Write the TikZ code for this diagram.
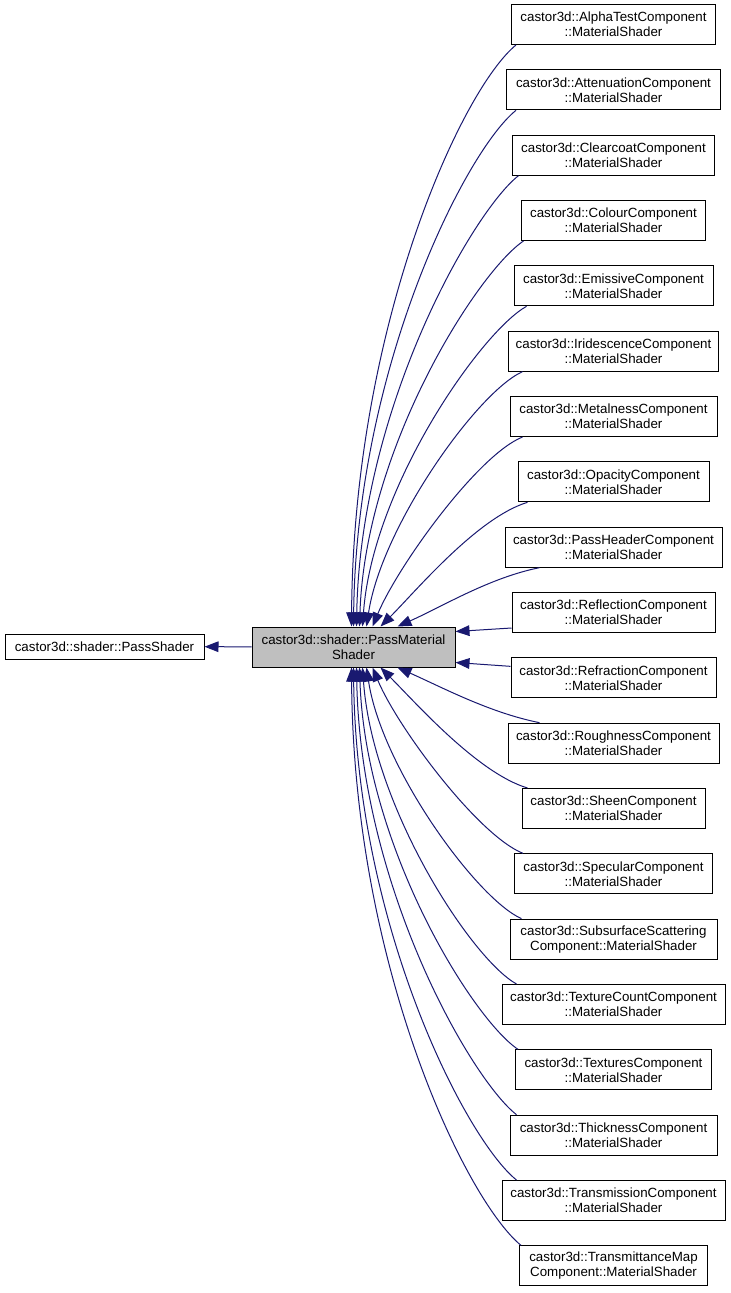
\documentclass[tikz,border=0pt]{standalone}
\usepackage{fontspec}
\setmainfont{Liberation Sans}
\usepackage{xcolor}
\usepackage{tikz}
\usetikzlibrary{
  arrows.meta,
  positioning,
  calc}
\definecolor{edgeblue}{HTML}{191970}
\definecolor{basegray}{HTML}{BFBFBF}
\tikzset{every picture/.style={font issue=\fontsize{10pt}{11.25pt}},
         font issue/.style={execute at begin picture={#1\selectfont}}
        }

\begin{document}
\begin{tikzpicture}[x=0.75pt, y=-0.75pt,
  cls/.style={draw=black, line width=0.75pt, align=center, inner sep=1.5pt, minimum height=30pt},
  inherit/.style={draw=edgeblue, line width=0.75pt, -{Triangle[length=10.5pt,width=8pt]}},
  node distance=18.25pt]

\useasboundingbox (0,0) rectangle (731,1293);

%base classes
\node[cls, fill=basegray, minimum width=152.25pt] (pms) at (353.5,647) {castor3d::shader::PassMaterial\\Shader};
\node[cls, minimum width=149.25pt, minimum height=18.75pt] (ps) at (104.5,646.5) {castor3d::shader::PassShader};

%components
\node[cls, minimum width=153pt] (alphatest) at (613.5,24.5) {castor3d::AlphaTestComponent\\::MaterialShader};
\node[cls, minimum width=160.5pt, below=of alphatest] (attenuation) {castor3d::AttenuationComponent\\::MaterialShader};
\node[cls, minimum width=151.5pt, below=of attenuation] (clearcoat) {castor3d::ClearcoatComponent\\::MaterialShader};
\node[cls, minimum width=138pt, below=of clearcoat] (colour) {castor3d::ColourComponent\\::MaterialShader};
\node[cls, minimum width=149.25pt, below=of colour] (emissive) {castor3d::EmissiveComponent\\::MaterialShader};
\node[cls, minimum width=157.5pt, below=of emissive] (iridescence) {castor3d::IridescenceComponent\\::MaterialShader};
\node[cls, minimum width=155.25pt, below=of iridescence] (metalness) {castor3d::MetalnessComponent\\::MaterialShader};
\node[cls, minimum width=143.25pt, below=of metalness] (opacity) {castor3d::OpacityComponent\\::MaterialShader};
\node[cls, minimum width=162.75pt, below=of opacity] (passheader) {castor3d::PassHeaderComponent\\::MaterialShader};
\node[cls, minimum width=152.25pt, below=of passheader] (reflection) {castor3d::ReflectionComponent\\::MaterialShader};
\node[cls, minimum width=153.75pt, below=of reflection] (refraction) {castor3d::RefractionComponent\\::MaterialShader};
\node[cls, minimum width=158.25pt, below=of refraction] (roughness) {castor3d::RoughnessComponent\\::MaterialShader};
\node[cls, minimum width=137.25pt, below=of roughness] (sheen) {castor3d::SheenComponent\\::MaterialShader};
\node[cls, minimum width=148.5pt, below=of sheen] (specular) {castor3d::SpecularComponent\\::MaterialShader};
\node[cls, minimum width=155.25pt, below=of specular] (subsurface) {castor3d::SubsurfaceScattering\\Component::MaterialShader};
\node[cls, minimum width=167.25pt, below=of subsurface] (texcount) {castor3d::TextureCountComponent\\::MaterialShader};
\node[cls, minimum width=147pt, below=of texcount] (textures) {castor3d::TexturesComponent\\::MaterialShader};
\node[cls, minimum width=155.25pt, below=of textures] (thickness) {castor3d::ThicknessComponent\\::MaterialShader};
\node[cls, minimum width=167.25pt, below=of thickness] (transmission) {castor3d::TransmissionComponent\\::MaterialShader};
\node[cls, minimum width=141pt, below=of transmission] (transmittance) {castor3d::TransmittanceMap\\Component::MaterialShader};

\draw[inherit] (pms) -- (ps);

%upper edges
\draw[inherit] ($(alphatest.south west)+(5,0)$) .. controls +(-55,45) and +(2,-300) .. ($(pms.north west)+(100,0)$);
\draw[inherit] ($(attenuation.south west)+(10,0)$) .. controls +(-50,40) and +(3,-260) .. ($(pms.north west)+(102,0)$);
\draw[inherit] ($(clearcoat.south west)+(6.5,0)$) .. controls +(-45,35) and +(4,-220) .. ($(pms.north west)+(105,0)$);
\draw[inherit] ($(colour.south west)+(2.5,0)$) .. controls +(-45,30) and +(6,-180) .. ($(pms.north west)+(108,0)$);
\draw[inherit] ($(emissive.south west)+(13,0)$) .. controls +(-45,25) and +(10,-140) .. ($(pms.north west)+(111,0)$);
\draw[inherit] ($(iridescence.south west)+(14.5,0)$) .. controls +(-45,20) and +(15,-100) .. ($(pms.north west)+(115,0)$);
\draw[inherit] ($(metalness.south west)+(13,0)$) .. controls +(-45,18) and +(25,-60) .. ($(pms.north west)+(121,0)$);
\draw[inherit] ($(opacity.south west)+(10,0)$) .. controls +(-50,15) and +(35,-35) .. ($(pms.north west)+(129,0)$);
\draw[inherit] ($(passheader.south west)+(35,0)$) .. controls +(-50,10) and +(45,-20) .. ($(pms.north west)+(146,0)$);

%side edges
\draw[inherit] ($(reflection.south west)+(0,-5)$) -- ($(pms.north east)+(0,5)$);
\draw[inherit] ($(refraction.north west)+(0,9)$) -- ($(pms.south east)+(0,-5)$);

%lower edges
\draw[inherit] ($(roughness.north west)+(32,0)$) .. controls +(-50,-10) and +(45,20) .. ($(pms.south west)+(146,0)$);
\draw[inherit] ($(sheen.north west)+(6,0)$) .. controls +(-50,-15) and +(35,35) .. ($(pms.south west)+(129,0)$);
\draw[inherit] ($(specular.north west)+(9,0)$) .. controls +(-45,-18) and +(25,60) .. ($(pms.south west)+(121,0)$);
\draw[inherit] ($(subsurface.north west)+(12,0)$) .. controls +(-45,-20) and +(15,100) .. ($(pms.south west)+(115,0)$);
\draw[inherit] ($(texcount.north west)+(15,0)$) .. controls +(-45,-25) and +(10,140) .. ($(pms.south west)+(111,0)$);
\draw[inherit] ($(textures.north west)+(3,0)$) .. controls +(-45,-30) and +(6,180) .. ($(pms.south west)+(108,0)$);
\draw[inherit] ($(thickness.north west)+(7,0)$) .. controls +(-45,-35) and +(4,220) .. ($(pms.south west)+(105,0)$);
\draw[inherit] ($(transmission.north west)+(15,0)$) .. controls +(-50,-40) and +(3,260) .. ($(pms.south west)+(102,0)$);
\draw[inherit] ($(transmittance.north west)+(2,0)$) .. controls +(-55,-45) and +(2,300) .. ($(pms.south west)+(100,0)$);

\end{tikzpicture}
\end{document}
